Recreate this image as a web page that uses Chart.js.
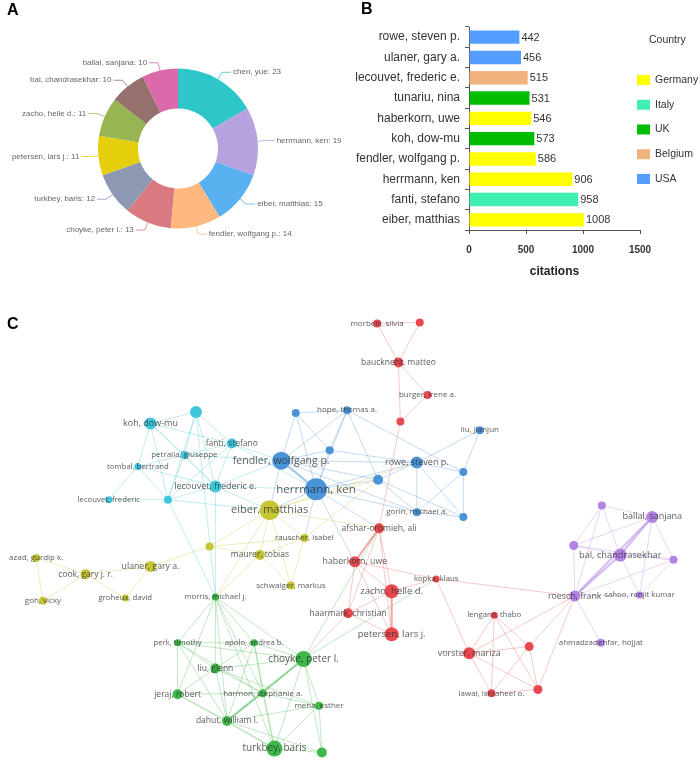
<!DOCTYPE html>
<html><head><meta charset="utf-8">
<script src="https://cdn.jsdelivr.net/npm/chart.js@4.4.0/dist/chart.umd.min.js"></script>
<style>
html,body{margin:0;padding:0;background:#fff;}
body{width:700px;height:772px;position:relative;overflow:hidden;font-family:'Liberation Sans',Arial,sans-serif;}
.panel{position:absolute;}
.tag{position:absolute;font:bold 16px 'Liberation Sans',Arial,sans-serif;color:#000;line-height:16px;z-index:5;}
</style></head><body>
<div class="panel" style="left:0;top:0;width:350px;height:300px"><canvas id="cA"></canvas></div>
<div class="panel" style="left:350px;top:0;width:350px;height:300px"><canvas id="cB"></canvas></div>
<div class="panel" style="left:0;top:300px;width:700px;height:472px"><canvas id="cC"></canvas></div>
<div class="tag" style="left:7px;top:2px">A</div>
<div class="tag" style="left:361px;top:1px">B</div>
<div class="tag" style="left:7px;top:316px">C</div>
<script>
// ---------- Panel A data ----------
const docAuthors = ['chen, yue','herrmann, ken','eiber, matthias','fendler, wolfgang p.','choyke, peter l.','turkbey, baris','petersen, lars j.','zacho, helle d.','bal, chandrasekhar','ballal, sanjana'];
const docCounts = [23,19,15,14,13,12,11,11,10,10];
const sliceColors = ['#2ec7c9','#b6a2de','#5ab1ef','#ffb980','#d87a80','#8d98b3','#e5cf0d','#97b552','#95706d','#dc69aa'];

// ---------- Panel B data ----------
const citeAuthors = ['rowe, steven p.','ulaner, gary a.','lecouvet, frederic e.','tunariu, nina','haberkorn, uwe','koh, dow-mu','fendler, wolfgang p.','herrmann, ken','fanti, stefano','eiber, matthias'];
const citeValues = [442,456,515,531,546,573,586,906,958,1008];
const citeCountry = ['USA','USA','Belgium','UK','Germany','UK','Germany','Germany','Italy','Germany'];
const countries = ['Germany','Italy','UK','Belgium','USA'];
const citeTicks = [0,500,1000,1500];
const countryColors = {Germany:'#ffff00', Italy:'#40f0b0', UK:'#00bd00', Belgium:'#f2b27e', USA:'#559dff'};

// ---------- Panel C data (network layout coordinates) ----------
const nodeIds = ['c1','c2','c3','c4','c5','c6','c7','c8',
 'b1','b2','b3','b4','b5','b6','b7','b8','b9','b10','b11',
 'y1','y2','y3','y4','y5','y6','y7','y8','y9','y10',
 'r1','r2','r3','r4','r5','r6','r7','r8','r9','r10','r11','r12','r13','r14','r15','r16',
 'p1','p2','p3','p4','p5','p6','p7','p8',
 'g1','g2','g3','g4','g5','g6','g7','g8','g9','g10','g11'];
const nodeLabels = ['','koh, dow-mu','fanti, stefano','petralia, giuseppe','tombal, bertrand','lecouvet, frederic e.','','lecouvet, frederic',
 'fendler, wolfgang p.','herrmann, ken','','hope, thomas a.','','rowe, steven p.','','gorin, michael a.','liu, jianjun','','',
 'eiber, matthias','rauscher, isabel','','maurer, tobias','schwaiger, markus','ulaner, gary a.','cook, gary j. r.','azad, gurdip k.','goh, vicky','groheux, david',
 'morbelli, silvia','','bauckneht, matteo','burger, irene a.','','afshar-oromieh, ali','haberkorn, uwe','kopka, klaus','zacho, helle d.','haarmark, christian','petersen, lars j.','lengana, thabo','','vorster, mariza','','lawal, ismaheel o.',
 '','ballal, sanjana','','bal, chandrasekhar','','roesch, frank','sahoo, ranjit kumar','ahmadzadehfar, hojjat',
 'morris, michael j.','perk, timothy','apolo, andrea b.','choyke, peter l.','liu, glenn','jeraj, robert','harmon, stephanie a.','mena, esther','dahut, william l.','turkbey, baris',''];
const nodeX = [-1.59,-2.06,-1.22,-1.71,-2.19,-1.39,-1.88,-2.49,
 -0.71,-0.35,-0.56,-0.03,-0.21,0.69,0.29,0.69,1.34,1.17,1.17,
 -0.83,-0.47,-1.45,-0.93,-0.61,-2.06,-2.73,-3.24,-3.17,-2.32,
 0.28,0.72,0.50,0.80,0.52,0.30,0.05,0.89,0.43,-0.02,0.43,1.49,1.85,1.23,1.94,1.46,
 2.60,3.12,2.31,2.79,3.34,2.32,2.99,2.59,
 -1.39,-1.78,-0.99,-0.48,-1.39,-1.78,-0.90,-0.32,-1.27,-0.78,-0.29];
const nodeY = [1.30,1.18,0.97,0.85,0.73,0.52,0.38,0.38,
 0.79,0.49,1.29,1.32,0.90,0.77,0.59,0.25,1.11,0.67,0.20,
 0.27,-0.02,-0.11,-0.20,-0.52,-0.32,-0.40,-0.23,-0.68,-0.65,
 2.23,2.24,1.82,1.48,1.20,0.08,-0.27,-0.45,-0.58,-0.81,-1.03,-0.83,-1.16,-1.23,-1.61,-1.65,
 0.32,0.20,-0.10,-0.20,-0.25,-0.63,-0.62,-1.12,
 -0.64,-1.12,-1.12,-1.29,-1.39,-1.66,-1.65,-1.78,-1.94,-2.23,-2.27];
const nodeWeight = [6,6,5,4,3.5,6,4,3.5,
 9,11,4,4,4,6,5,4,4,4,4,
 10,4,4,5,4,5.5,5,4,4,3.5,
 4,4,5,4,4,5,5.5,3.5,7,5,7,3.5,4.5,6,4.5,4,
 4,6,4.5,6.5,4,5.5,3.5,4,
 3.5,3.5,3.5,8,5,5,4,4,5,8,5];
const links = ('c1-c2 c1-c3 c1-c4 c1-c6 c1-c7 c2-c3 c2-c4 c2-c5 c2-c6 c2-c7 c3-c4 c3-c6 c3-c7 c4-c5 c4-c6 c4-c7 c5-c6 c5-c7 c5-c8 c6-c7 c7-c8 c3-b1 c3-b2 c6-b1 c6-b2 c6-y1 c4-b1 c7-g1 c1-g1 c6-g1 c7-y1 ' +
 'b1-b2 b1-b3 b1-b4 b1-b5 b1-b6 b1-b7 b2-b3 b2-b4 b2-b5 b2-b6 b2-b7 b2-b8 b3-b4 b3-b5 b4-b5 b4-b7 b4-b10 b5-b6 b6-b7 b6-b8 b6-b9 b6-b10 b6-b11 b7-b8 b7-b11 b8-b10 b8-b11 b10-b11 b9-b10 b1-y1 b2-y1 b2-r6 b2-r7 b1-b8 b2-y2 ' +
 'y1-y2 y1-y3 y1-y4 y1-y5 y2-y4 y2-y5 y3-y4 y2-y3 y4-y5 y3-y6 y6-y7 y6-y10 y7-y10 y7-y8 y7-y9 y8-y9 y1-g1 y4-g1 y1-b6 y1-b7 y1-r6 y2-b7 ' +
 'r1-r2 r1-r3 r2-r3 r3-r4 r3-r5 r4-r5 r5-r6 r6-r7 r6-r9 r6-r11 r6-r10 r7-r9 r7-r11 r7-r10 r7-r8 r8-r9 r9-r11 r9-r10 r10-r11 r8-r14 r8-p6 r10-g4 r12-r13 r12-r14 r12-r15 r12-r16 r13-r14 r13-r15 r13-r16 r14-r15 r14-r16 r15-r16 r14-p6 r15-p6 r13-p6 ' +
 'p1-p2 p1-p3 p1-p4 p1-p6 p2-p3 p2-p4 p2-p5 p2-p6 p2-p7 p3-p4 p3-p5 p3-p6 p4-p5 p4-p6 p4-p7 p5-p6 p5-p7 p6-p7 p6-p8 ' +
 'g1-g2 g1-g3 g1-g4 g1-g5 g1-g6 g1-g7 g1-g9 g1-g10 g2-g3 g2-g4 g2-g5 g2-g6 g2-g7 g2-g9 g3-g4 g3-g5 g3-g7 g3-g9 g3-g10 g4-g5 g4-g7 g4-g8 g4-g9 g4-g10 g4-g11 g5-g6 g5-g7 g5-g9 g5-g8 g6-g7 g6-g9 g6-g10 g7-g9 g7-g10 g7-g8 g8-g9 g8-g10 g8-g11 g9-g10 g9-g11 g10-g11 g4-r6 g4-r8').split(' ');
const strongLinks = ['b1-b2','r9-r11','p2-p4','p4-p6','p2-p6','g4-g9','r6-r7'];

// ---------- styling ----------
const clusterColor = {c:'#3fc6da', b:'#4a93d8', y:'#c6c634', r:'#e8484e', p:'#b283e4', g:'#3fb84a'};
const clusterRGB = {c:'63,198,218', b:'74,147,216', y:'198,198,52', r:'236,90,90', p:'178,131,228', g:'63,184,74'};

Chart.defaults.font.family = "'Liberation Sans', Arial, sans-serif";

function fontAvailable(name){
  const c = document.createElement('canvas').getContext('2d');
  const t = 'lecouvet, frederic e. 0123';
  c.font = "20px monospace"; const w0 = c.measureText(t).width;
  c.font = "20px '" + name + "', monospace"; const w1 = c.measureText(t).width;
  return Math.abs(w0 - w1) > 0.5;
}
const narrowOK = fontAvailable('Liberation Sans Narrow');
const barFam = narrowOK ? "'Liberation Sans Narrow', 'Liberation Sans', Arial, sans-serif" : "'Liberation Sans', Arial, sans-serif";
const barLbl = narrowOK ? 14 : 12;
const barVal = narrowOK ? 13 : 11;
const legSize = narrowOK ? 13 : 10.5;

// ---------- Panel A ----------
const pieLabels = {
  id:'pieLabels',
  afterDatasetsDraw(chart){
    const ctx = chart.ctx, meta = chart.getDatasetMeta(0);
    ctx.save();
    ctx.font = "8px 'Liberation Sans', Arial, sans-serif";
    ctx.textBaseline = 'middle';
    meta.data.forEach((arc,i)=>{
      const p = arc.getProps(['x','y','startAngle','endAngle','outerRadius'], true);
      const a = (p.startAngle + p.endAngle)/2, c = Math.cos(a), s = Math.sin(a);
      const x0 = p.x + c*p.outerRadius, y0 = p.y + s*p.outerRadius;
      const x1 = p.x + c*(p.outerRadius+8), y1 = p.y + s*(p.outerRadius+8);
      const dir = c >= 0 ? 1 : -1, x2 = x1 + dir*9;
      ctx.strokeStyle = sliceColors[i]; ctx.lineWidth = 0.8;
      ctx.beginPath(); ctx.moveTo(x0,y0); ctx.lineTo(x1,y1); ctx.lineTo(x2,y1); ctx.stroke();
      ctx.fillStyle = '#666'; ctx.textAlign = dir > 0 ? 'left' : 'right';
      ctx.fillText(docAuthors[i] + ': ' + docCounts[i], x2 + dir*2, y1);
    });
    ctx.restore();
  }
};
new Chart(document.getElementById('cA'), {
  type:'doughnut',
  data:{labels:docAuthors, datasets:[{data:docCounts, backgroundColor:sliceColors, borderWidth:0}]},
  options:{responsive:true, maintainAspectRatio:false, animation:false, cutout:'50%',
    layout:{padding:{left:98, right:92, top:68, bottom:71}},
    plugins:{legend:{display:false}, tooltip:{enabled:false}}},
  plugins:[pieLabels]
});

// ---------- Panel B ----------
const barValues = {
  id:'barValues',
  afterDatasetsDraw(chart){
    const ctx = chart.ctx, meta = chart.getDatasetMeta(0);
    ctx.save();
    ctx.font = barVal + "px " + barFam; ctx.fillStyle = '#333';
    ctx.textAlign = 'left'; ctx.textBaseline = 'middle';
    meta.data.forEach((bar,i)=>{ ctx.fillText(String(citeValues[i]), bar.x + 2, bar.y + 0.5); });
    ctx.restore();
  }
};
const countryLegend = {
  id:'countryLegend',
  afterDraw(chart){
    const ctx = chart.ctx;
    ctx.save();
    ctx.textBaseline = 'middle'; ctx.textAlign = 'left';
    ctx.font = legSize + "px " + barFam; ctx.fillStyle = '#333';
    ctx.fillText('Country', 299, 40);
    countries.forEach((name,i)=>{
      const cy = 80 + i*24.75;
      ctx.fillStyle = countryColors[name]; ctx.fillRect(287, cy-5, 13, 10);
      ctx.fillStyle = '#333'; ctx.fillText(name, 305, cy);
    });
    ctx.restore();
  }
};
new Chart(document.getElementById('cB'), {
  type:'bar',
  data:{labels:citeAuthors, datasets:[{data:citeValues, backgroundColor:citeCountry.map(c=>countryColors[c]), borderWidth:0, barPercentage:0.66, categoryPercentage:1}]},
  options:{indexAxis:'y', responsive:true, maintainAspectRatio:false, animation:false,
    layout:{padding:{left:0, right:60, top:27, bottom:0}},
    plugins:{legend:{display:false}, tooltip:{enabled:false}},
    scales:{
      x:{min:0, max:1500, afterBuildTicks(s){ s.ticks = citeTicks.map(v=>({value:v})); },
        ticks:{color:'#333', font:{family:barFam, size:10, weight:'bold'}, padding:10, maxRotation:0, callback:v=>String(v)},
        grid:{drawOnChartArea:false, drawTicks:true, tickLength:4, color:'#555'},
        border:{color:'#555'},
        title:{display:true, text:'citations', color:'#222', font:{family:barFam, size:12, weight:'bold'}, padding:{top:0, bottom:21}},
        afterFit(s){ s.height = 70; }},
      y:{ticks:{color:'#333', font:{family:barFam, size:barLbl}, padding:5},
        grid:{drawOnChartArea:false, drawTicks:true, tickLength:4, color:'#555'},
        border:{color:'#555'},
        afterFit(s){ s.width = 119; }}
    }},
  plugins:[barValues, countryLegend]
});

// ---------- Panel C ----------
const idIndex = {}; nodeIds.forEach((id,i)=>idIndex[id]=i);
const clusterOf = i => nodeIds[i].charAt(0);
const networkEdges = {
  id:'networkEdges',
  beforeDatasetsDraw(chart){
    const ctx = chart.ctx, xs = chart.scales.x, ys = chart.scales.y;
    ctx.save();
    links.forEach(l=>{
      const [a,b] = l.split('-').map(k=>idIndex[k]);
      const strong = strongLinks.includes(l);
      ctx.strokeStyle = 'rgba(' + clusterRGB[clusterOf(a)] + ',' + (strong ? 0.5 : 0.33) + ')';
      ctx.lineWidth = strong ? 2.2 : 1;
      ctx.beginPath();
      ctx.moveTo(xs.getPixelForValue(nodeX[a]), ys.getPixelForValue(nodeY[a]));
      ctx.lineTo(xs.getPixelForValue(nodeX[b]), ys.getPixelForValue(nodeY[b]));
      ctx.stroke();
    });
    ctx.restore();
  }
};
const networkLabels = {
  id:'networkLabels',
  afterDatasetsDraw(chart){
    const ctx = chart.ctx, xs = chart.scales.x, ys = chart.scales.y;
    ctx.save();
    ctx.textAlign = 'center'; ctx.textBaseline = 'middle';
    ctx.fillStyle = 'rgba(45,45,45,0.78)';
    nodeLabels.forEach((t,i)=>{
      if (!t) return;
      ctx.font = (6 + 0.5*nodeWeight[i]).toFixed(2) + "px 'Open Sans', 'Noto Sans', sans-serif";
      ctx.fillText(t, xs.getPixelForValue(nodeX[i]), ys.getPixelForValue(nodeY[i]));
    });
    ctx.restore();
  }
};
new Chart(document.getElementById('cC'), {
  type:'scatter',
  data:{datasets:[{data:nodeX.map((x,i)=>({x:x, y:nodeY[i]})),
    pointRadius:c=>nodeWeight[c.dataIndex], pointHoverRadius:c=>nodeWeight[c.dataIndex],
    backgroundColor:c=>clusterColor[clusterOf(c.dataIndex)], borderWidth:0}]},
  options:{responsive:true, maintainAspectRatio:false, animation:false,
    layout:{padding:0},
    plugins:{legend:{display:false}, tooltip:{enabled:false}},
    scales:{x:{type:'linear', min:-3.5, max:3.5, display:false},
            y:{type:'linear', min:-2.36, max:2.36, display:false}}},
  plugins:[networkEdges, networkLabels]
});
</script>
</body></html>
